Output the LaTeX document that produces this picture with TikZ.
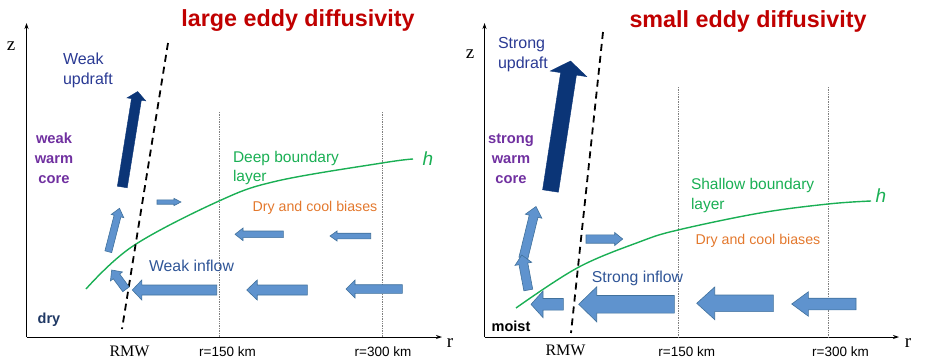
\documentclass[tikz,border=0pt]{standalone}
\usepackage{fontspec}
\setmainfont{Liberation Sans}
\newfontfamily\serifface{Liberation Serif}
\usetikzlibrary{calc,arrows.meta}

\definecolor{titlered}{HTML}{C00000}
\definecolor{arrowblue}{HTML}{5F93CE}
\definecolor{arrowedge}{HTML}{41719C}
\definecolor{updraftc}{HTML}{0B3577}
\definecolor{navytext}{HTML}{2A3A94}
\definecolor{inflowtext}{HTML}{2F5597}
\definecolor{purp}{HTML}{7030A0}
\definecolor{bgreen}{HTML}{1AAF54}
\definecolor{orng}{HTML}{E3782D}
\definecolor{drynavy}{HTML}{1F3864}

% #1 name, #2 style, #3 tail, #4 tip, #5 half shaft, #6 half head, #7 head length
\newcommand{\blockarrow}[7]{%
  \coordinate (#1-t) at #3;
  \coordinate (#1-p) at #4;
  \coordinate (#1-h) at ($(#1-p)!#7!(#1-t)$);
  \path[#2] ($(#1-t)!#5!90:(#1-p)$) -- ($(#1-h)!#5!-90:(#1-t)$) -- ($(#1-h)!#6!-90:(#1-t)$) -- (#1-p) -- ($(#1-h)!#6!90:(#1-t)$) -- ($(#1-h)!#5!90:(#1-t)$) -- ($(#1-t)!#5!-90:(#1-p)$) -- cycle;
}

\begin{document}
\begin{tikzpicture}[x=1pt,y=-1pt,
  lbl/.style={inner sep=0pt, outer sep=0pt},
  axisline/.style={line width=0.9pt, -{Stealth[length=6pt,width=4pt]}},
  rmwline/.style={line width=1.8pt, dash pattern=on 7pt off 5pt},
  guide/.style={gray, line width=0.7pt, densely dotted},
  blayer/.style={line width=1.4pt, draw=bgreen},
  inarrow/.style={fill=arrowblue, draw=arrowedge, line width=0.6pt},
  uparrow/.style={fill=updraftc, draw=updraftc, line width=0.4pt},
  titletext/.style={lbl, text=titlered, font=\fontsize{23.3}{28}\selectfont\bfseries},
  axislabel/.style={lbl, font=\serifface\fontsize{19}{22}\selectfont},
  rmwtext/.style={lbl, font=\serifface\fontsize{16}{19}\selectfont},
  kmtext/.style={lbl, font=\fontsize{13.5}{16}\selectfont},
  updrafttext/.style={lbl, text=navytext, align=left, font=\fontsize{16}{19.5}\selectfont},
  coretext/.style={lbl, text=purp, align=center, font=\fontsize{14.7}{20}\selectfont\bfseries},
  bltext/.style={lbl, text=bgreen, align=left, font=\fontsize{15.5}{19.5}\selectfont},
  htext/.style={lbl, text=bgreen, font=\fontsize{19}{22}\selectfont\itshape},
  biastext/.style={lbl, text=orng, font=\fontsize{14.2}{17}\selectfont},
  inflowlabel/.style={lbl, text=inflowtext, font=\fontsize{15.8}{19}\selectfont},
  surftext/.style={lbl, font=\fontsize{14.5}{17}\selectfont\bfseries},
]
\useasboundingbox (0,0) rectangle (936,362);

% ================= LEFT PANEL =================
\coordinate (Lo) at (26.5,337);
\coordinate (Lz) at (26.5,23);
\coordinate (Lr) at (442,337);
\draw[axisline] (Lo) -- (Lz);
\draw[axisline] (Lo) -- (Lr);
\node[axislabel] (Lzl) at (11,46) {z};
\node[axislabel] (Lrl) at (450,343) {r};

\node[titletext] (Ltitle) at (298,21) {large eddy diffusivity};

% guides
\coordinate (Lg1t) at (219,112); \coordinate (Lg1b) at (219,337);
\coordinate (Lg2t) at (382,112); \coordinate (Lg2b) at (382,337);
\draw[guide] (Lg1t) -- (Lg1b);
\draw[guide] (Lg2t) -- (Lg2b);

% boundary layer
\draw[blayer] plot[smooth, tension=0.6] coordinates {(86,289) (133,246) (219,201) (277,181) (382,163) (413,159)};

% RMW
\coordinate (Lrmwt) at (168,43); \coordinate (Lrmwb) at (122,329);
\draw[rmwline] (Lrmwt) -- (Lrmwb);

% updraft
\blockarrow{Lup}{uparrow}{(122.3,187)}{(137.7,91.5)}{5pt}{9.5pt}{8pt}

% small arrows
\blockarrow{La1}{inarrow}{(157,202)}{(181,202)}{2.2pt}{3.6pt}{7pt}
\blockarrow{La2}{inarrow}{(108.3,251.7)}{(119.5,208.3)}{3.5pt}{6.5pt}{8pt}
\blockarrow{La3}{inarrow}{(126,289.3)}{(111.7,270)}{4pt}{7.5pt}{8pt}
\blockarrow{La4}{inarrow}{(216.7,290)}{(132.3,290)}{5pt}{10pt}{9.5pt}
\blockarrow{La5}{inarrow}{(283.3,234.3)}{(235,234.3)}{3.3pt}{6.3pt}{8pt}
\blockarrow{La6}{inarrow}{(370.7,236)}{(330,236)}{2.8pt}{5pt}{7pt}
\blockarrow{La7}{inarrow}{(307.3,290)}{(246.7,290)}{5pt}{10pt}{10.5pt}
\blockarrow{La8}{inarrow}{(402.3,289)}{(346,289)}{4.3pt}{9pt}{9pt}

% texts
\node[updrafttext, anchor=west] (Lupt) at (63,70.5) {Weak\\updraft};
\node[coretext] (Lcore) at (54,158) {weak\\warm\\core};
\node[bltext, anchor=west] (Lbl) at (233,168) {Deep boundary\\layer};
\node[htext] (Lh) at (428,159) {h};
\node[biastext] (Lbias) at (315,208) {Dry and cool biases};
\node[inflowlabel] (Linf) at (191.5,266) {Weak inflow};
\node[surftext, text=drynavy] (Ldry) at (49,319.5) {dry};
\node[rmwtext] (Lrmw) at (129.5,351) {RMW};
\node[kmtext] (Lkm1) at (227.5,352) {r=150 km};
\node[kmtext] (Lkm2) at (383,352) {r=300 km};

% ================= RIGHT PANEL =================
\coordinate (Ro) at (484.5,337);
\coordinate (Rz) at (484.5,23);
\coordinate (Rr) at (899,337);
\draw[axisline] (Ro) -- (Rz);
\draw[axisline] (Ro) -- (Rr);
\node[axislabel] (Rzl) at (470,54) {z};
\node[axislabel] (Rrl) at (908,343) {r};

\node[titletext] (Rtitle) at (748,21) {small eddy diffusivity};

\coordinate (Rg1t) at (678,87); \coordinate (Rg1b) at (678,337);
\coordinate (Rg2t) at (828,87); \coordinate (Rg2b) at (828,337);
\draw[guide] (Rg1t) -- (Rg1b);
\draw[guide] (Rg2t) -- (Rg2b);

\draw[blayer] plot[smooth, tension=0.6] coordinates {(516,308) (578,267.5) (640,241.7) (678,230) (760,213) (828,204) (871,201)};

\coordinate (Rrmwt) at (603,32); \coordinate (Rrmwb) at (571,333);
\draw[rmwline] (Rrmwt) -- (Rrmwb);

\blockarrow{Rup}{uparrow}{(550.5,191)}{(570.5,61)}{8pt}{18.5pt}{13pt}

\blockarrow{Ra1}{inarrow}{(523.3,258.3)}{(536,206.5)}{4.5pt}{8.5pt}{10pt}
\blockarrow{Ra2}{inarrow}{(528.3,290)}{(521.7,255)}{4.5pt}{8.5pt}{9pt}
\blockarrow{Ra3}{inarrow}{(563.3,304.3)}{(531,304.3)}{5.8pt}{13.3pt}{12pt}
\blockarrow{Ra4}{inarrow}{(586,239)}{(622.7,239)}{4.2pt}{6.5pt}{8pt}
\blockarrow{Ra5}{inarrow}{(674.3,304.3)}{(578.7,304.3)}{8.8pt}{17.5pt}{18pt}
\blockarrow{Ra6}{inarrow}{(773.3,303.3)}{(696.7,303.3)}{8.3pt}{16.3pt}{18pt}
\blockarrow{Ra7}{inarrow}{(856,304)}{(791.7,304)}{5.8pt}{12.2pt}{16.6pt}

\node[updrafttext, anchor=west] (Rupt) at (498,54.5) {Strong\\updraft};
\node[coretext] (Rcore) at (511,159) {strong\\warm\\core};
\node[bltext, anchor=west] (Rbl) at (691,195.5) {Shallow boundary\\layer};
\node[htext] (Rh) at (881,196) {h};
\node[biastext] (Rbias) at (758,241) {Dry and cool biases};
\node[inflowlabel] (Rinf) at (637.5,278) {Strong inflow};
\node[surftext, text=black] (Rmoist) at (511,326) {moist};
\node[rmwtext] (Rrmw) at (565.5,350) {RMW};
\node[kmtext] (Rkm1) at (686.8,352) {r=150 km};
\node[kmtext] (Rkm2) at (840.5,352) {r=300 km};
\end{tikzpicture}
\end{document}
